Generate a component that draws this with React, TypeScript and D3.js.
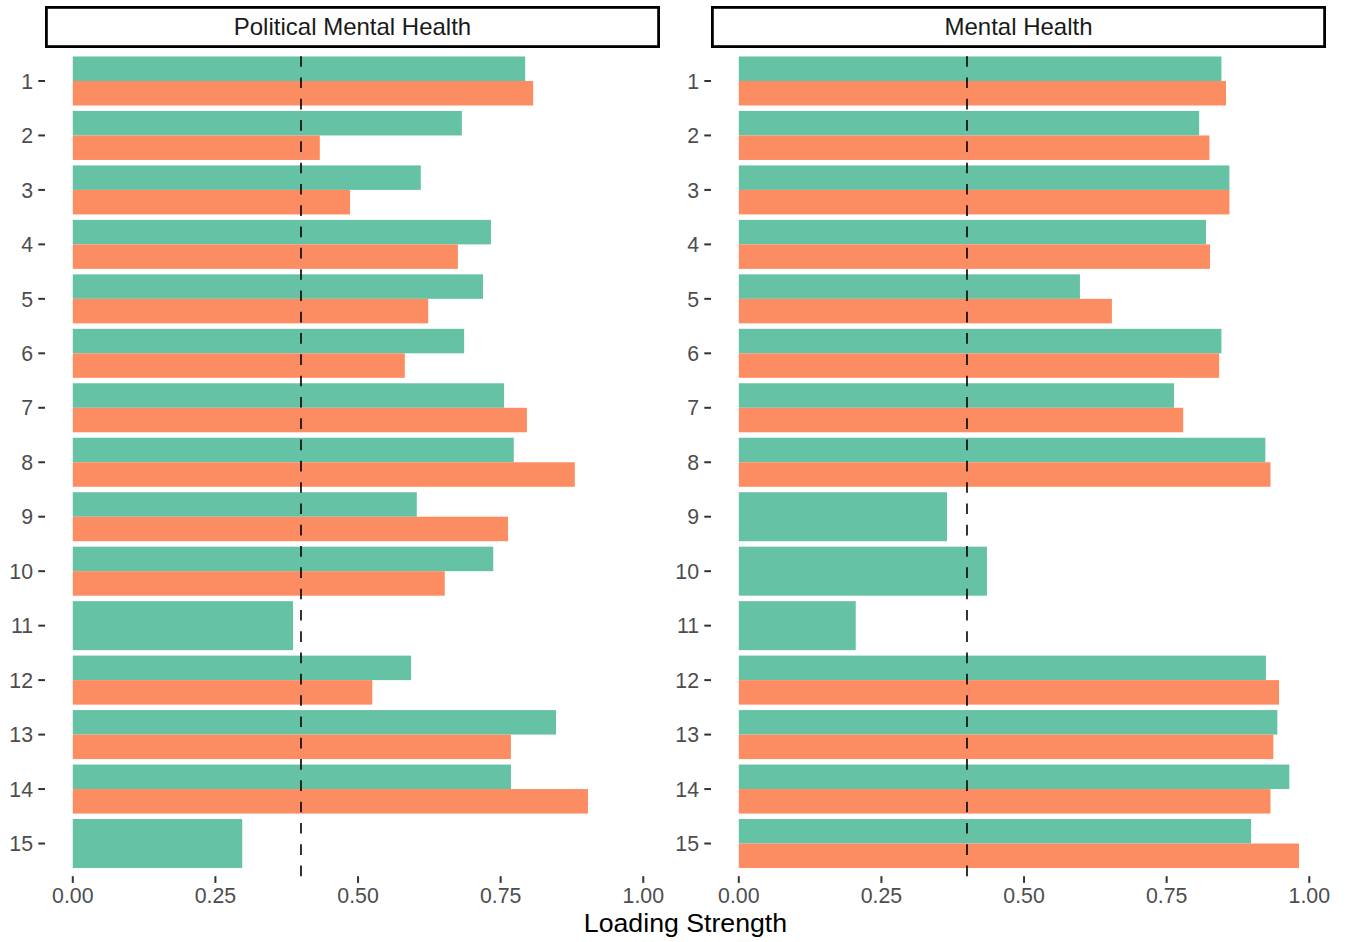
import React from "react";
import * as d3 from "d3";

// ---- data ----
const categories = ["1", "2", "3", "4", "5", "6", "7", "8", "9", "10", "11", "12", "13", "14", "15"];
const panelTitles = ["Political Mental Health", "Mental Health"];
const seriesNames = ["A", "B"];
const xTickValues = [0, 0.25, 0.5, 0.75, 1.0];
const thresholdValue = 0.4;

// Political Mental Health
const politicalA: (number | null)[] = [0.793, 0.682, 0.610, 0.733, 0.719, 0.686, 0.756, 0.773, 0.603, 0.737, 0.386, 0.593, 0.847, 0.768, 0.297];
const politicalB: (number | null)[] = [0.807, 0.433, 0.486, 0.675, 0.623, 0.582, 0.796, 0.880, 0.763, 0.652, null, 0.525, 0.768, 0.903, null];
// Mental Health
const mentalA: (number | null)[] = [0.846, 0.807, 0.860, 0.819, 0.598, 0.846, 0.763, 0.923, 0.365, 0.435, 0.205, 0.924, 0.944, 0.965, 0.898];
const mentalB: (number | null)[] = [0.854, 0.825, 0.860, 0.826, 0.654, 0.842, 0.779, 0.932, null, null, null, 0.947, 0.937, 0.932, 0.982];

const colors = ["#66C2A5", "#FC8D62"];

const W = 1349;
const H = 942;
const FONT = "'Liberation Sans', Arial, Helvetica, sans-serif";

const panelTop = 48.3;
const panelBottom = 876.2;
const panelX = [
  [45, 660],
  [711, 1326],
];
const xDomain: [number, number] = [-0.0487, 1.0293];

export default function App() {
  const y = d3
    .scaleBand<string>()
    .domain(categories)
    .range([panelTop, panelBottom])
    .paddingInner(0.1)
    .paddingOuter(0.15);
  const fmt = d3.format(".2f");

  const panelData = [
    [politicalA, politicalB],
    [mentalA, mentalB],
  ];

  return (
    <svg
      width={W}
      height={H}
      style={{ position: "absolute", left: 0, top: 0, background: "#fff" }}
      fontFamily={FONT}
    >
      <rect x={0} y={0} width={W} height={H} fill="#fff" />
      {panelTitles.map((title, pi) => {
        const [x0, x1] = panelX[pi];
        const x = d3.scaleLinear().domain(xDomain).range([x0, x1]);
        const series = panelData[pi];
        const dashX = x(thresholdValue);
        return (
          <g key={title}>
            {/* strip */}
            <rect
              x={x0 + 1.4}
              y={6 + 1.4}
              width={x1 - x0 - 2.8}
              height={42 - 2.8}
              fill="#fff"
              stroke="#000"
              strokeWidth={2.8}
            />
            <text
              x={(x0 + x1) / 2}
              y={27}
              dy="0.35em"
              textAnchor="middle"
              fontSize={24}
              fill="#1a1a1a"
            >
              {title}
            </text>
            {/* bars (dodged; a lone bar takes the whole group width) */}
            {categories.map((c, ci) => {
              const present = seriesNames.filter((_, si) => series[si][ci] != null);
              const sub = d3
                .scaleBand<string>()
                .domain(present)
                .range([y(c) as number, (y(c) as number) + y.bandwidth()]);
              return seriesNames.map((s, si) => {
                const v = series[si][ci];
                if (v == null) return null;
                return (
                  <rect
                    key={c + "-" + si}
                    x={x(0)}
                    y={sub(s) as number}
                    width={x(v) - x(0)}
                    height={sub.bandwidth()}
                    fill={colors[si]}
                  />
                );
              });
            })}
            {/* threshold line */}
            <line
              x1={dashX}
              x2={dashX}
              y1={panelBottom}
              y2={panelTop}
              stroke="#000"
              strokeWidth={1.6}
              strokeDasharray="10.65 10.65"
            />
            {/* y axis */}
            {categories.map((c) => {
              const cy = (y(c) as number) + y.bandwidth() / 2;
              return (
                <g key={"yt" + c}>
                  <line x1={x0 - 6.7} x2={x0} y1={cy} y2={cy} stroke="#333" strokeWidth={2} />
                  <text
                    x={x0 - 12}
                    y={cy}
                    dy="0.36em"
                    textAnchor="end"
                    fontSize={21.3}
                    fill="#4d4d4d"
                  >
                    {c}
                  </text>
                </g>
              );
            })}
            {/* x axis */}
            {xTickValues.map((t) => (
              <g key={"xt" + t}>
                <line x1={x(t)} x2={x(t)} y1={panelBottom} y2={panelBottom + 6.7} stroke="#333" strokeWidth={2} />
                <text x={x(t)} y={903} textAnchor="middle" fontSize={21.3} fill="#4d4d4d">
                  {fmt(t)}
                </text>
              </g>
            ))}
          </g>
        );
      })}
      <text x={(45 + 1326) / 2} y={932} textAnchor="middle" fontSize={26.7} fill="#000">
        Loading Strength
      </text>
    </svg>
  );
}
